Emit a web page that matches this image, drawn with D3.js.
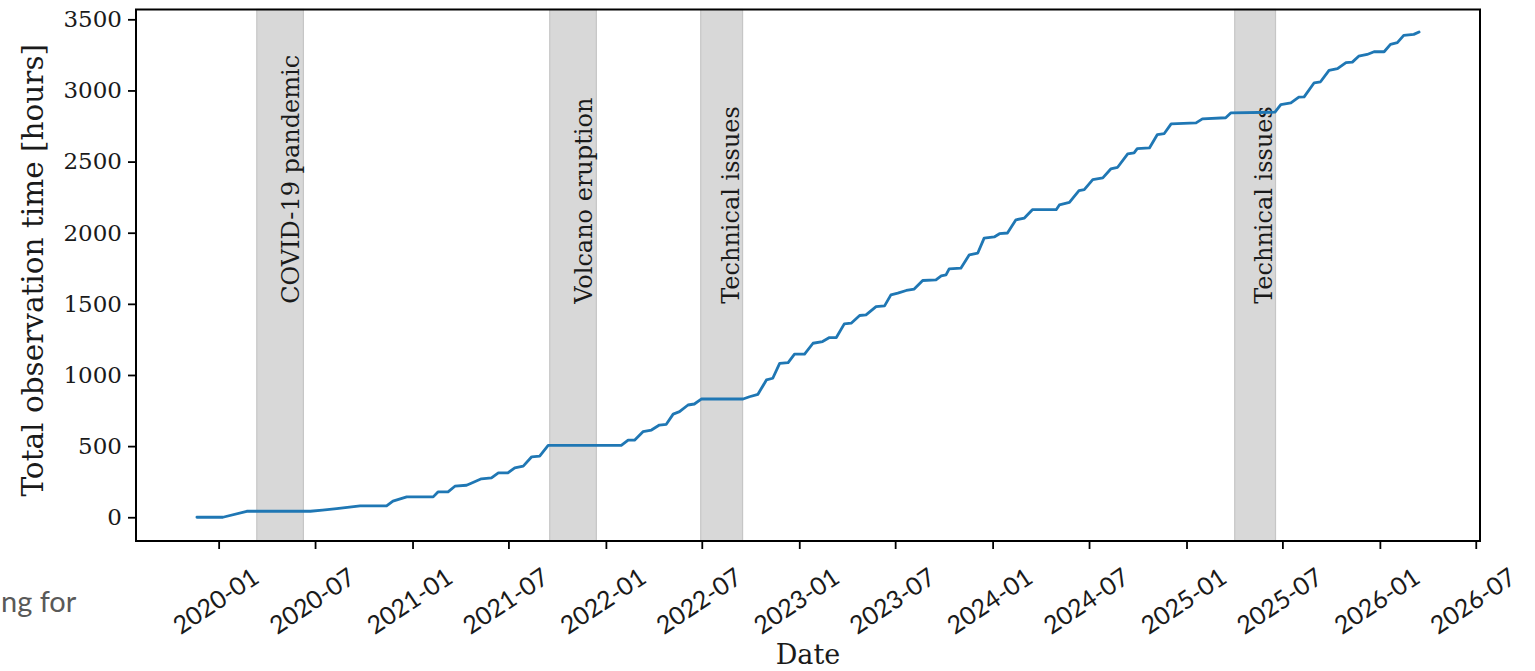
<!DOCTYPE html>
<html>
<head>
<meta charset="utf-8">
<script src="https://cdn.jsdelivr.net/npm/d3@7"></script>
<style>
  html, body { margin: 0; padding: 0; background: #ffffff; }
  svg { display: block; }
</style>
</head>
<body>
<svg id="chart" width="1535" height="671"></svg>
<script>
// Cumulative observation time: sample dates and running total (hours)
const obsDates = [
  "2019-11-21","2020-01-09","2020-02-23","2020-06-22","2020-07-15","2020-08-11","2020-09-24",
  "2020-11-13","2020-11-25","2020-12-21","2021-02-09","2021-02-18","2021-03-09",
  "2021-03-22","2021-04-13","2021-04-25","2021-05-11","2021-05-30","2021-06-12",
  "2021-06-30","2021-07-13","2021-07-29","2021-08-14","2021-08-29","2021-09-14",
  "2022-01-30","2022-02-12","2022-02-24","2022-03-12","2022-03-28","2022-04-12",
  "2022-04-25","2022-05-08","2022-05-20","2022-06-05","2022-06-17","2022-06-30",
  "2022-09-17","2022-09-29","2022-10-15","2022-10-31","2022-11-12","2022-11-25",
  "2022-12-11","2022-12-23","2023-01-11","2023-01-27","2023-02-14","2023-02-27",
  "2023-03-12","2023-03-27","2023-04-09","2023-04-25","2023-05-07","2023-05-26",
  "2023-06-11","2023-06-23","2023-07-06","2023-07-22","2023-08-06","2023-08-22",
  "2023-09-16","2023-09-26","2023-10-05","2023-10-11","2023-11-02","2023-11-18",
  "2023-12-04","2023-12-16","2024-01-04","2024-01-14","2024-01-29","2024-02-14",
  "2024-03-01","2024-03-16","2024-04-30","2024-05-06","2024-05-25","2024-06-12",
  "2024-06-22","2024-07-08","2024-07-27","2024-08-11","2024-08-24","2024-09-12",
  "2024-09-24","2024-09-30","2024-10-23","2024-11-07","2024-11-20","2024-12-03",
  "2025-01-19","2025-01-31","2025-03-16","2025-03-26","2025-06-17","2025-06-28",
  "2025-07-17","2025-08-01","2025-08-11","2025-08-30","2025-09-11","2025-09-27",
  "2025-10-13","2025-10-29","2025-11-10","2025-11-22","2025-12-08","2025-12-21",
  "2026-01-09","2026-01-21","2026-02-03","2026-02-15","2026-03-06","2026-03-16"
];
const obsHours = [
  0, 0, 42, 42, 50, 61, 80,
  80, 113, 143, 143, 178, 178,
  218, 225, 244, 270, 277, 312,
  312, 347, 359, 425, 430, 505,
  505, 542, 542, 601, 613, 648,
  653, 725, 742, 789, 796, 831,
  831, 847, 864, 965, 977, 1082,
  1087, 1146, 1146, 1223, 1235, 1263,
  1263, 1359, 1364, 1418, 1423, 1481,
  1486, 1563, 1575, 1594, 1604, 1664,
  1669, 1697, 1704, 1746, 1751, 1845,
  1857, 1962, 1970, 1993, 1998, 2091,
  2103, 2162, 2162, 2195, 2213, 2296,
  2303, 2373, 2385, 2448, 2460, 2554,
  2561, 2591, 2596, 2690, 2697, 2765,
  2772, 2800, 2808, 2843, 2847, 2901,
  2913, 2953, 2955, 3054, 3061, 3141,
  3153, 3196, 3199, 3241, 3253, 3272,
  3272, 3324, 3336, 3387, 3394, 3411
];

// Interruption periods
const gapStarts = ["2020-03-13", "2021-09-17", "2022-06-29", "2025-04-02"];
const gapEnds   = ["2020-06-09", "2021-12-14", "2022-09-16", "2025-06-18"];
const gapLabels = ["COVID-19 pandemic", "Volcano eruption", "Technical issues", "Technical issues"];
const gapLabelHours = 1500;

// Axis ticks
const xTickLabels = ["2020-01","2020-07","2021-01","2021-07","2022-01","2022-07","2023-01",
                     "2023-07","2024-01","2024-07","2025-01","2025-07","2026-01","2026-07"];
const yTicks = [0, 500, 1000, 1500, 2000, 2500, 3000, 3500];
const xDomain = ["2019-07-29", "2026-07-09"];
const yDomain = [-167, 3569];

const parse = d3.timeParse("%Y-%m-%d");
const parseMonth = d3.timeParse("%Y-%m");
const series = obsDates.map((d, i) => ({ date: parse(d), hours: obsHours[i] }));
const gaps = gapStarts.map((s, i) => ({ start: parse(s), end: parse(gapEnds[i]), label: gapLabels[i] }));

const svg = d3.select("#chart");
const plot = { left: 136, right: 1480, top: 9.5, bottom: 541 };

const x = d3.scaleTime().domain(xDomain.map(parse)).range([plot.left, plot.right]);
const y = d3.scaleLinear().domain(yDomain).range([plot.bottom, plot.top]);

const serif = "'DejaVu Serif', serif";
const sans = "Lato, 'Open Sans', sans-serif";

// Shaded interruption periods
const gapG = svg.append("g");
gapG.selectAll("rect").data(gaps).join("rect")
  .attr("x", d => x(d.start))
  .attr("y", plot.top)
  .attr("width", d => x(d.end) - x(d.start))
  .attr("height", plot.bottom - plot.top)
  .attr("fill", "#d8d8d8")
  .attr("stroke", "#c6c6c6")
  .attr("stroke-width", 1.2);

// Cumulative line
const line = d3.line().x(d => x(d.date)).y(d => y(d.hours));
svg.append("path")
  .datum(series)
  .attr("d", line)
  .attr("fill", "none")
  .attr("stroke", "#1f77b4")
  .attr("stroke-width", 2.8)
  .attr("stroke-linejoin", "round")
  .attr("stroke-linecap", "round");

// Period labels, vertical, ending at the band's right edge
gapG.selectAll("text").data(gaps).join("text")
  .attr("transform", d => `translate(${x(d.end) - 4},${y(gapLabelHours)}) rotate(-90)`)
  .attr("text-anchor", "start")
  .attr("font-family", serif)
  .attr("font-size", 24)
  .attr("fill", "#1a1a1a")
  .text(d => d.label);

// Axes
const xAxis = d3.axisBottom(x)
  .tickValues(xTickLabels.map(parseMonth))
  .tickFormat(d3.timeFormat("%Y-%m"))
  .tickSize(8)
  .tickSizeOuter(0);
const yAxis = d3.axisLeft(y)
  .tickValues(yTicks)
  .tickFormat(d3.format("d"))
  .tickSize(8)
  .tickSizeOuter(0);

const gx = svg.append("g").attr("transform", `translate(0,${plot.bottom})`).call(xAxis);
gx.select(".domain").remove();
gx.selectAll(".tick line").attr("stroke", "#000").attr("stroke-width", 1.8);
gx.selectAll(".tick text")
  .attr("font-family", sans)
  .attr("font-size", 25)
  .attr("fill", "#1a1a1a")
  .attr("y", 0).attr("dy", null)
  .attr("text-anchor", "middle")
  .attr("dominant-baseline", "central")
  .attr("transform", "translate(-4,59) rotate(-34)");

const gy = svg.append("g").attr("transform", `translate(${plot.left},0)`).call(yAxis);
gy.select(".domain").remove();
gy.selectAll(".tick line").attr("stroke", "#000").attr("stroke-width", 1.8);
gy.selectAll(".tick text")
  .attr("font-family", serif)
  .attr("font-size", 23)
  .attr("fill", "#1a1a1a")
  .attr("x", -14);

// Plot frame
svg.append("rect")
  .attr("x", plot.left).attr("y", plot.top)
  .attr("width", plot.right - plot.left).attr("height", plot.bottom - plot.top)
  .attr("fill", "none").attr("stroke", "#000").attr("stroke-width", 2);

// Axis titles
svg.append("text")
  .attr("x", (plot.left + plot.right) / 2).attr("y", 664)
  .attr("text-anchor", "middle")
  .attr("font-family", serif).attr("font-size", 27).attr("fill", "#1a1a1a")
  .text("Date");
svg.append("text")
  .attr("transform", `translate(43,${(plot.top + plot.bottom) / 2 - 5}) rotate(-90)`)
  .attr("text-anchor", "middle")
  .attr("font-family", serif).attr("font-size", 29.5).attr("fill", "#1a1a1a")
  .text("Total observation time [hours]");

// Caption fragment at lower left
svg.append("text")
  .attr("x", 1).attr("y", 612)
  .attr("font-family", sans).attr("font-size", 29).attr("fill", "#595959")
  .text("ng for");
</script>
</body>
</html>
